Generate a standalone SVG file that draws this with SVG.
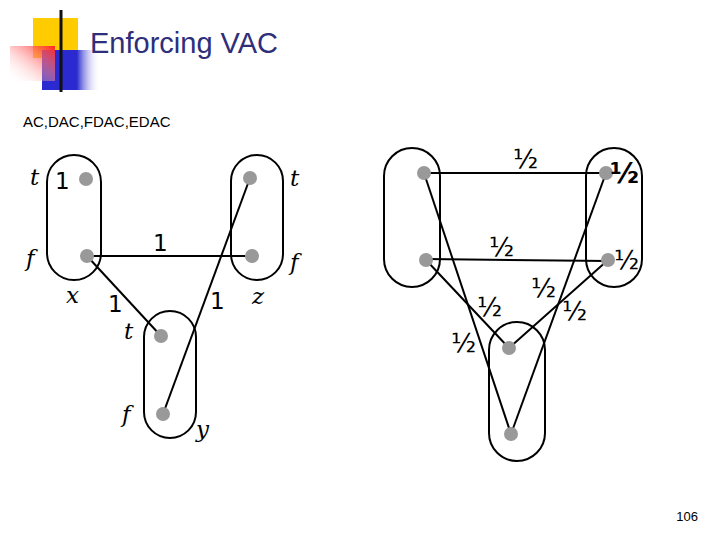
<svg xmlns="http://www.w3.org/2000/svg" width="720" height="540" viewBox="0 0 720 540">
<defs>
<linearGradient id="rl" x1="0" x2="1"><stop offset="0" stop-color="#333"/><stop offset="1" stop-color="#fff"/></linearGradient>
<linearGradient id="red" x1="1" x2="0" y1="0" y2="1"><stop offset="0" stop-color="#f22"/><stop offset="1" stop-color="#fff" stop-opacity="0"/></linearGradient>
<linearGradient id="blu" x1="0" x2="1"><stop offset="0" stop-color="#2a2ad0"/><stop offset="0.6" stop-color="#2a2ad0"/><stop offset="1" stop-color="#fff" stop-opacity="0"/></linearGradient>
</defs>
<style>
.cap{fill:none;stroke:#000;stroke-width:2}
.e{stroke:#000;stroke-width:2}
.n{fill:#999}
.lab{font-family:"DejaVu Sans",sans-serif;font-size:23px}
.it{font-family:"DejaVu Serif",serif;font-style:italic;font-size:23px}
.h{font-family:"DejaVu Sans",sans-serif;font-size:26px}
</style>
<rect width="720" height="540" fill="#fff"/>
<g id="logo">
<rect x="33" y="18" width="45" height="40" fill="#ffcc00"/>
<rect x="42" y="50" width="58" height="40" fill="url(#blu)"/>
<rect x="10" y="46" width="45" height="35" fill="url(#red)"/>
<line x1="61" y1="10" x2="61" y2="92" stroke="#111" stroke-width="3"/>
<line x1="35" y1="73" x2="720" y2="73" stroke="url(#rl)" stroke-width="3"/>
</g>
<text x="90" y="53" font-family="Liberation Sans,sans-serif" font-size="29" fill="#2e2e7a">Enforcing VAC</text>
<text x="23" y="127" font-family="Liberation Sans,sans-serif" font-size="15">AC,DAC,FDAC,EDAC</text>
<text x="698" y="521" font-family="Liberation Sans,sans-serif" font-size="13" text-anchor="end">106</text>
<g id="connectors">
<line class="e" x1="87" y1="256" x2="252" y2="256"/>
<line class="e" x1="87" y1="256" x2="161" y2="336"/>
<line class="e" x1="250" y1="178" x2="163" y2="414"/>
<line class="e" x1="424" y1="173" x2="606" y2="173"/>
<line class="e" x1="426" y1="259" x2="608" y2="261"/>
<line class="e" x1="426" y1="260" x2="509" y2="348"/>
<line class="e" x1="424" y1="173" x2="511" y2="434"/>
<line class="e" x1="606" y1="173" x2="511" y2="434"/>
<line class="e" x1="608" y1="260" x2="509" y2="348"/>
</g>
<g id="x"><rect class="cap" x="47" y="155" width="54" height="125" rx="27"/><circle class="n" cx="86" cy="179" r="7"/><circle class="n" cx="87" cy="256" r="7"/></g>
<g id="z"><rect class="cap" x="231" y="155" width="52" height="125" rx="26"/><circle class="n" cx="250" cy="178" r="7"/><circle class="n" cx="252" cy="256" r="7"/></g>
<g id="y"><rect class="cap" x="144" y="311" width="52" height="127" rx="26"/><circle class="n" cx="161" cy="336" r="7"/><circle class="n" cx="163" cy="414" r="7"/></g>
<g id="a"><rect class="cap" x="384" y="148" width="56" height="139" rx="28"/><circle class="n" cx="424" cy="173" r="7"/><circle class="n" cx="426" cy="260" r="7"/></g>
<g id="b"><rect class="cap" x="586" y="148" width="56" height="139" rx="28"/><circle class="n" cx="606" cy="173" r="7"/><circle class="n" cx="608" cy="260" r="7"/></g>
<g id="c"><rect class="cap" x="489" y="322" width="56" height="139" rx="28"/><circle class="n" cx="509" cy="348" r="7"/><circle class="n" cx="511" cy="434" r="7"/></g>
<g class="it">
<text x="30" y="185">t</text><text x="26" y="266">f</text><text x="66" y="303">x</text>
<text x="290" y="186">t</text><text x="290" y="270">f</text><text x="252" y="304">z</text>
<text x="124" y="339">t</text><text x="122" y="422">f</text><text x="196" y="437">y</text>
</g>
<g class="lab">
<text x="55" y="189">1</text><text x="153" y="251">1</text><text x="108" y="312">1</text><text x="210" y="309">1</text>
</g>
<g class="h">
<text x="513" y="168">½</text><text x="610" y="183" font-weight="bold" font-size="28">½</text>
<text x="489" y="256">½</text><text x="614" y="269">½</text><text x="531" y="297">½</text>
<text x="477" y="316">½</text><text x="562" y="320">½</text><text x="451" y="352">½</text>
</g>
</svg>
